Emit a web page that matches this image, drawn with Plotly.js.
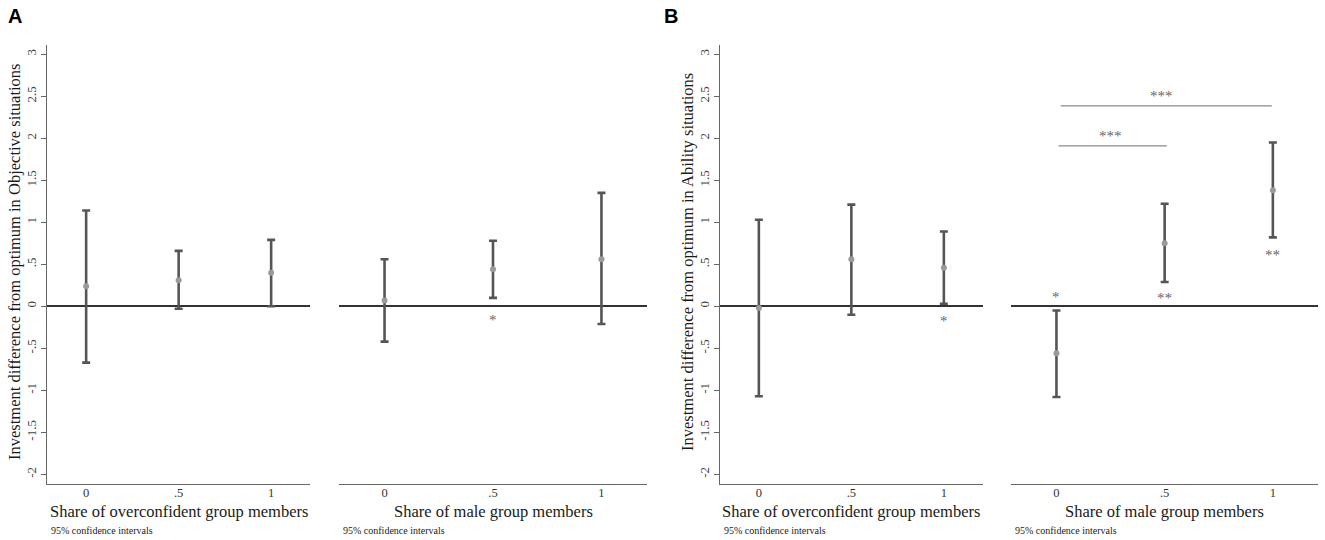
<!DOCTYPE html>
<html>
<head>
<meta charset="utf-8">
<script src="https://cdn.plot.ly/plotly-3.0.1.min.js"></script>
<style>
  body { margin: 0; background: #fff; }
  #chart { width: 1325px; height: 540px; }
</style>
</head>
<body>
<div id="chart"></div>
<script>
// share of group members (x categories)
var shares = [0, 0.5, 1];
var shareLabels = ["0", ".5", "1"];

// A: Objective situations
var objOverMean = [0.24, 0.31, 0.40];
var objOverHigh = [1.14, 0.66, 0.79];
var objOverLow = [-0.67, -0.03, 0.0];

var objMaleMean = [0.07, 0.44, 0.56];
var objMaleHigh = [0.56, 0.78, 1.35];
var objMaleLow = [-0.42, 0.10, -0.21];

// B: Ability situations
var abiOverMean = [-0.02, 0.56, 0.46];
var abiOverHigh = [1.03, 1.21, 0.89];
var abiOverLow = [-1.07, -0.10, 0.03];

var abiMaleMean = [-0.56, 0.75, 1.38];
var abiMaleHigh = [-0.05, 1.22, 1.95];
var abiMaleLow = [-1.08, 0.29, 0.82];

var yTicks = [-2, -1.5, -1, -0.5, 0, 0.5, 1, 1.5, 2, 2.5, 3];
var yTickText = ["-2", "-1.5", "-1", "-.5", "0", ".5", "1", "1.5", "2", "2.5", "3"];

// significance stars: [panel, x, y, text]
var stars = [
    [2, 0.5, -0.12, "*"],
    [3, 1, -0.13, "*"],
    [4, 0, 0.155, "*"],
    [4, 0.5, 0.145, "**"],
    [4, 1, 0.66, "**"],
    [4, 0.25, 2.07, "***"],
    [4, 0.485, 2.555, "***"]
];
// comparison brackets in panel B right: [x0, x1, y]
var brackets = [
    [0.01, 0.51, 1.91],
    [0.02, 0.995, 2.385]
];

var W = 1325, H = 540;
var serif = "Liberation Serif, Times New Roman, serif";

function px(v) { return v / W; }
function py(v) { return 1 - v / H; }

function ciTrace(mean, high, low, n) {
    var plus = [], minus = [];
    for (var i in mean) {
        plus.push(high[i] - mean[i]);
        minus.push(mean[i] - low[i]);
    }
    return {
        x: shares,
        y: mean,
        xaxis: n == 1 ? "x" : "x" + n,
        yaxis: n == 1 ? "y" : "y" + n,
        type: "scatter",
        mode: "markers",
        marker: { color: "#9a9a9a", size: 6 },
        error_y: {
            type: "data",
            symmetric: false,
            array: plus,
            arrayminus: minus,
            color: "#555555",
            thickness: 2.6,
            width: 4,
        },
        hoverinfo: "skip",
    };
}

var data = [
    ciTrace(objOverMean, objOverHigh, objOverLow, 1),
    ciTrace(objMaleMean, objMaleHigh, objMaleLow, 2),
    ciTrace(abiOverMean, abiOverHigh, abiOverLow, 3),
    ciTrace(abiMaleMean, abiMaleHigh, abiMaleLow, 4),
];

// x-domains in pixels
var xDom = [[47.3, 310], [339, 647], [720, 982.7], [1011, 1318.3]];
var yDom = [py(484), py(45)];

var layout = {
    width: W,
    height: H,
    showlegend: false,
    paper_bgcolor: "#ffffff",
    plot_bgcolor: "#ffffff",
    margin: { l: 0, r: 0, t: 0, b: 0, pad: 0 },
    annotations: [],
    shapes: [],
};

for (var k = 0; k < 4; k++) {
    var n = k + 1;
    var xa = n == 1 ? "xaxis" : "xaxis" + n;
    var ya = n == 1 ? "yaxis" : "yaxis" + n;
    var hasY = (n == 1 || n == 3);
    layout[xa] = {
        domain: [px(xDom[k][0]), px(xDom[k][1])],
        anchor: n == 1 ? "y" : "y" + n,
        range: [-0.21, 1.21],
        tickvals: shares,
        ticktext: shareLabels,
        ticks: "",
        ticklabelstandoff: -3,
        showgrid: false,
        zeroline: false,
        showline: true,
        linecolor: "#666666",
        linewidth: 1.3,
        tickfont: { family: serif, size: 12.5, color: "#333333" },
        fixedrange: true,
    };
    layout[ya] = {
        domain: yDom,
        anchor: n == 1 ? "x" : "x" + n,
        range: [-2.115, 3.11],
        tickvals: yTicks,
        ticktext: yTickText,
        tickangle: -90,
        ticks: hasY ? "outside" : "",
        ticklen: 5,
        tickcolor: "#666666",
        showticklabels: hasY,
        showgrid: false,
        showline: hasY,
        linecolor: "#666666",
        linewidth: 1.3,
        zeroline: true,
        zerolinecolor: "#333333",
        zerolinewidth: 1.6,
        tickfont: { family: serif, size: 13, color: "#444444" },
        fixedrange: true,
    };
}

// axis titles and notes
var xTitles = [
    "Share of overconfident group members",
    "Share of male group members",
    "Share of overconfident group members",
    "Share of male group members",
];
for (var k = 0; k < 4; k++) {
    layout.annotations.push({
        xref: "paper", yref: "paper",
        x: px((xDom[k][0] + xDom[k][1]) / 2), y: py(511),
        xanchor: "center", yanchor: "middle",
        text: xTitles[k], showarrow: false,
        font: { family: serif, size: 16.5, color: "#1a1a1a" },
    });
    layout.annotations.push({
        xref: "paper", yref: "paper",
        x: px(xDom[k][0] + 1.5), y: py(530.5),
        xanchor: "left", yanchor: "middle",
        text: "95% confidence intervals", showarrow: false,
        font: { family: serif, size: 10, color: "#1a1a1a" },
    });
}

var yTitles = [
    [14, "Investment difference from optimum in Objective situations"],
    [687, "Investment difference from optimum in Ability situations"],
];
for (var t in yTitles) {
    layout.annotations.push({
        xref: "paper", yref: "paper",
        x: px(yTitles[t][0]), y: py(262),
        xanchor: "center", yanchor: "middle",
        textangle: -90,
        text: yTitles[t][1], showarrow: false,
        font: { family: serif, size: 16.5, color: "#1a1a1a" },
    });
}

// panel letters
layout.annotations.push({
    xref: "paper", yref: "paper", x: px(6), y: py(16),
    xanchor: "left", yanchor: "middle", text: "<b>A</b>", showarrow: false,
    font: { family: "Liberation Sans, Arial, sans-serif", size: 20, color: "#000" },
});
layout.annotations.push({
    xref: "paper", yref: "paper", x: px(662), y: py(16),
    xanchor: "left", yanchor: "middle", text: "<b>B</b>", showarrow: false,
    font: { family: "Liberation Sans, Arial, sans-serif", size: 20, color: "#000" },
});

// stars
for (var s in stars) {
    var st = stars[s];
    layout.annotations.push({
        xref: st[0] == 1 ? "x" : "x" + st[0],
        yref: st[0] == 1 ? "y" : "y" + st[0],
        x: st[1], y: st[2],
        xanchor: "center", yanchor: "middle",
        yshift: -4,
        text: st[3], showarrow: false,
        font: { family: serif, size: 15, color: "#666666" },
    });
}

// brackets
for (var b in brackets) {
    layout.shapes.push({
        type: "line", xref: "x4", yref: "y4",
        x0: brackets[b][0], x1: brackets[b][1],
        y0: brackets[b][2], y1: brackets[b][2],
        line: { color: "#8a8a8a", width: 1.3 },
    });
}

Plotly.newPlot("chart", data, layout, { staticPlot: true });
</script>
</body>
</html>
